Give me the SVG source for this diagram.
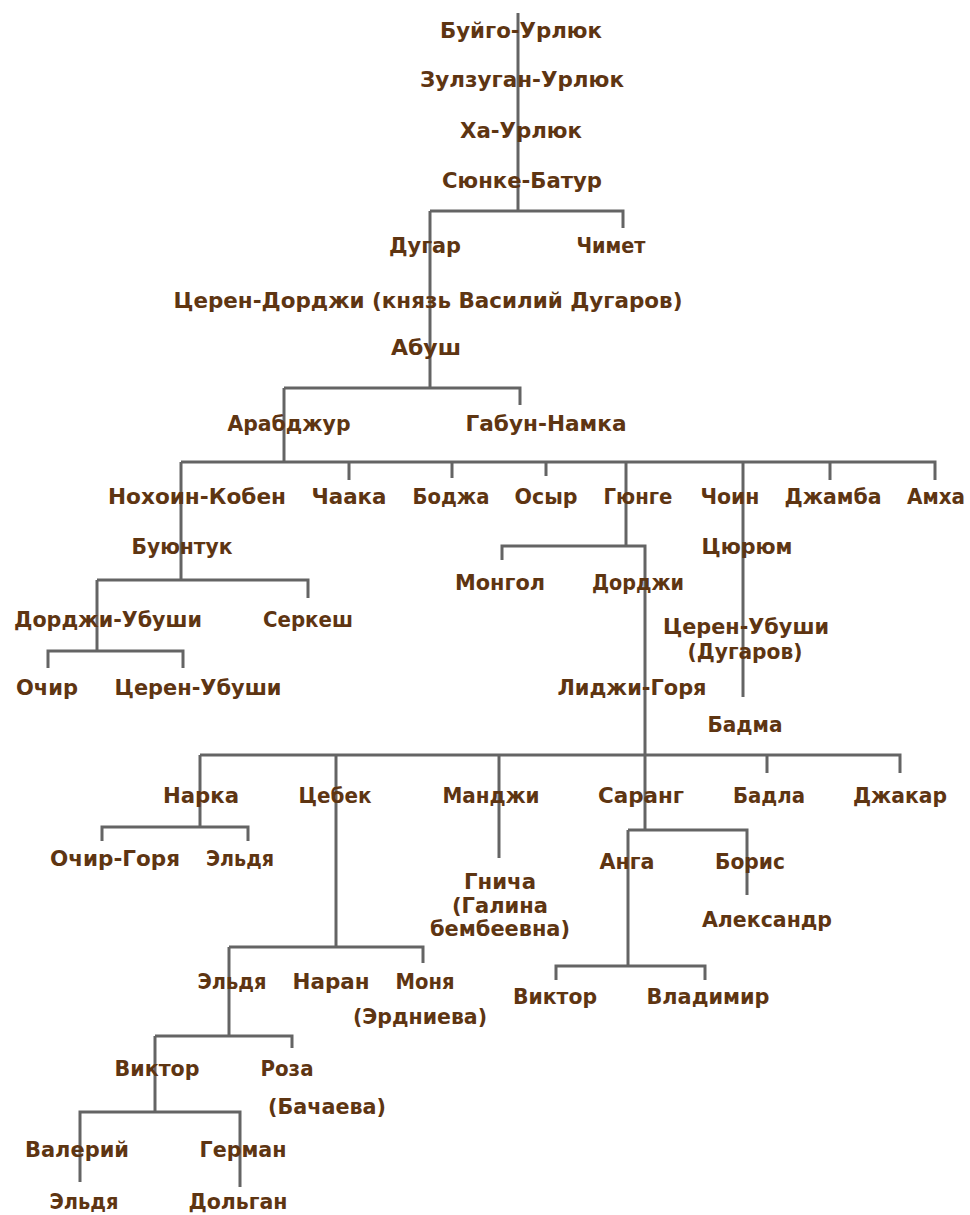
<svg xmlns="http://www.w3.org/2000/svg" width="970" height="1215" viewBox="0 0 970 1215">
<style>
.c{fill:none;stroke:#646464;stroke-width:3;stroke-linecap:butt;stroke-linejoin:miter}
text{font-family:"DejaVu Sans Condensed","DejaVu Sans",sans-serif;font-weight:bold;font-size:21px;fill:#5e3512;text-anchor:middle}
</style>
<rect width="970" height="1215" fill="#ffffff"/>
<g id="connectors">
<path class="c" d="M518,13V211"/>
<path class="c" d="M430,211H623V228"/>
<path class="c" d="M430,211V388"/>
<path class="c" d="M284,388H520V405"/>
<path class="c" d="M284,388V462"/>
<path class="c" d="M181,462H935V480M349,462V480M452,462V478M546,462V476M830,462V480"/>
<path class="c" d="M181,462V580"/>
<path class="c" d="M97,580H308V598"/>
<path class="c" d="M97,580V651"/>
<path class="c" d="M48,668V651H183V668"/>
<path class="c" d="M626,462V546"/>
<path class="c" d="M502,560V546H645V755"/>
<path class="c" d="M743,462V697"/>
<path class="c" d="M200,755H900V773M767,755V773"/>
<path class="c" d="M200,755V827"/>
<path class="c" d="M102,841V827H248V841"/>
<path class="c" d="M336,755V947"/>
<path class="c" d="M499,755V858"/>
<path class="c" d="M645,755V830"/>
<path class="c" d="M628,830H747V895"/>
<path class="c" d="M628,830V966"/>
<path class="c" d="M556,980V966H705V980"/>
<path class="c" d="M229,947H423V963"/>
<path class="c" d="M229,947V1036"/>
<path class="c" d="M155,1036H292V1048"/>
<path class="c" d="M155,1036V1112"/>
<path class="c" d="M80,1182V1112H240V1187"/>
</g>
<g id="n1"><text x="521" y="38" textLength="162" lengthAdjust="spacingAndGlyphs">Буйго-Урлюк</text></g>
<g id="n2"><text x="522" y="87" textLength="204" lengthAdjust="spacingAndGlyphs">Зулзуган-Урлюк</text></g>
<g id="n3"><text x="521" y="138" textLength="122" lengthAdjust="spacingAndGlyphs">Ха-Урлюк</text></g>
<g id="n4"><text x="522" y="188" textLength="160" lengthAdjust="spacingAndGlyphs">Сюнке-Батур</text></g>
<g id="n5"><text x="425" y="253" textLength="72" lengthAdjust="spacingAndGlyphs">Дугар</text></g>
<g id="n6"><text x="611" y="253" textLength="69" lengthAdjust="spacingAndGlyphs">Чимет</text></g>
<g id="n7"><text x="428" y="308" textLength="509" lengthAdjust="spacingAndGlyphs">Церен-Дорджи (князь Василий Дугаров)</text></g>
<g id="n8"><text x="426" y="355" textLength="70" lengthAdjust="spacingAndGlyphs">Абуш</text></g>
<g id="n9"><text x="289" y="431" textLength="123" lengthAdjust="spacingAndGlyphs">Арабджур</text></g>
<g id="n10"><text x="546" y="431" textLength="161" lengthAdjust="spacingAndGlyphs">Габун-Намка</text></g>
<g id="n11"><text x="197" y="504" textLength="178" lengthAdjust="spacingAndGlyphs">Нохоин-Кобен</text></g>
<g id="n12"><text x="349" y="504" textLength="75" lengthAdjust="spacingAndGlyphs">Чаака</text></g>
<g id="n13"><text x="451" y="504" textLength="77" lengthAdjust="spacingAndGlyphs">Боджа</text></g>
<g id="n14"><text x="546" y="504" textLength="63" lengthAdjust="spacingAndGlyphs">Осыр</text></g>
<g id="n15"><text x="638" y="504" textLength="69" lengthAdjust="spacingAndGlyphs">Гюнге</text></g>
<g id="n16"><text x="730" y="504" textLength="59" lengthAdjust="spacingAndGlyphs">Чоин</text></g>
<g id="n17"><text x="833" y="504" textLength="97" lengthAdjust="spacingAndGlyphs">Джамба</text></g>
<g id="n18"><text x="936" y="504" textLength="58" lengthAdjust="spacingAndGlyphs">Амха</text></g>
<g id="n19"><text x="182" y="554" textLength="101" lengthAdjust="spacingAndGlyphs">Буюнтук</text></g>
<g id="n20"><text x="500" y="590" textLength="90" lengthAdjust="spacingAndGlyphs">Монгол</text></g>
<g id="n21"><text x="638" y="590" textLength="92" lengthAdjust="spacingAndGlyphs">Дорджи</text></g>
<g id="n22"><text x="747" y="554" textLength="91" lengthAdjust="spacingAndGlyphs">Цюрюм</text></g>
<g id="n23"><text x="108" y="627" textLength="188" lengthAdjust="spacingAndGlyphs">Дорджи-Убуши</text></g>
<g id="n24"><text x="308" y="627" textLength="90" lengthAdjust="spacingAndGlyphs">Серкеш</text></g>
<g id="n25"><text x="746" y="634" textLength="166" lengthAdjust="spacingAndGlyphs">Церен-Убуши</text><text x="745" y="659" textLength="115" lengthAdjust="spacingAndGlyphs">(Дугаров)</text></g>
<g id="n26"><text x="47" y="695" textLength="62" lengthAdjust="spacingAndGlyphs">Очир</text></g>
<g id="n27"><text x="198" y="695" textLength="167" lengthAdjust="spacingAndGlyphs">Церен-Убуши</text></g>
<g id="n28"><text x="632" y="695" textLength="149" lengthAdjust="spacingAndGlyphs">Лиджи-Горя</text></g>
<g id="n29"><text x="745" y="732" textLength="75" lengthAdjust="spacingAndGlyphs">Бадма</text></g>
<g id="n30"><text x="201" y="803" textLength="76" lengthAdjust="spacingAndGlyphs">Нарка</text></g>
<g id="n31"><text x="335" y="803" textLength="73" lengthAdjust="spacingAndGlyphs">Цебек</text></g>
<g id="n32"><text x="491" y="803" textLength="97" lengthAdjust="spacingAndGlyphs">Манджи</text></g>
<g id="n33"><text x="641" y="803" textLength="86" lengthAdjust="spacingAndGlyphs">Саранг</text></g>
<g id="n34"><text x="769" y="803" textLength="72" lengthAdjust="spacingAndGlyphs">Бадла</text></g>
<g id="n35"><text x="900" y="803" textLength="94" lengthAdjust="spacingAndGlyphs">Джакар</text></g>
<g id="n36"><text x="115" y="866" textLength="130" lengthAdjust="spacingAndGlyphs">Очир-Горя</text></g>
<g id="n37"><text x="240" y="866" textLength="68" lengthAdjust="spacingAndGlyphs">Эльдя</text></g>
<g id="n38"><text x="500" y="889" textLength="72" lengthAdjust="spacingAndGlyphs">Гнича</text><text x="500" y="913" textLength="96" lengthAdjust="spacingAndGlyphs">(Галина</text><text x="500" y="936" textLength="140" lengthAdjust="spacingAndGlyphs">бембеевна)</text></g>
<g id="n39"><text x="627" y="869" textLength="55" lengthAdjust="spacingAndGlyphs">Анга</text></g>
<g id="n40"><text x="750" y="869" textLength="70" lengthAdjust="spacingAndGlyphs">Борис</text></g>
<g id="n41"><text x="767" y="927" textLength="130" lengthAdjust="spacingAndGlyphs">Александр</text></g>
<g id="n42"><text x="555" y="1004" textLength="84" lengthAdjust="spacingAndGlyphs">Виктор</text></g>
<g id="n43"><text x="708" y="1004" textLength="123" lengthAdjust="spacingAndGlyphs">Владимир</text></g>
<g id="n44"><text x="232" y="989" textLength="69" lengthAdjust="spacingAndGlyphs">Эльдя</text></g>
<g id="n45"><text x="331" y="989" textLength="77" lengthAdjust="spacingAndGlyphs">Наран</text></g>
<g id="n46"><text x="425" y="989" textLength="59" lengthAdjust="spacingAndGlyphs">Моня</text><text x="420" y="1024" textLength="134" lengthAdjust="spacingAndGlyphs">(Эрдниева)</text></g>
<g id="n47"><text x="157" y="1076" textLength="85" lengthAdjust="spacingAndGlyphs">Виктор</text></g>
<g id="n48"><text x="287" y="1076" textLength="53" lengthAdjust="spacingAndGlyphs">Роза</text><text x="327" y="1114" textLength="118" lengthAdjust="spacingAndGlyphs">(Бачаева)</text></g>
<g id="n49"><text x="77" y="1157" textLength="104" lengthAdjust="spacingAndGlyphs">Валерий</text></g>
<g id="n50"><text x="243" y="1157" textLength="87" lengthAdjust="spacingAndGlyphs">Герман</text></g>
<g id="n51"><text x="84" y="1209" textLength="69" lengthAdjust="spacingAndGlyphs">Эльдя</text></g>
<g id="n52"><text x="238" y="1209" textLength="99" lengthAdjust="spacingAndGlyphs">Дольган</text></g>
</svg>
